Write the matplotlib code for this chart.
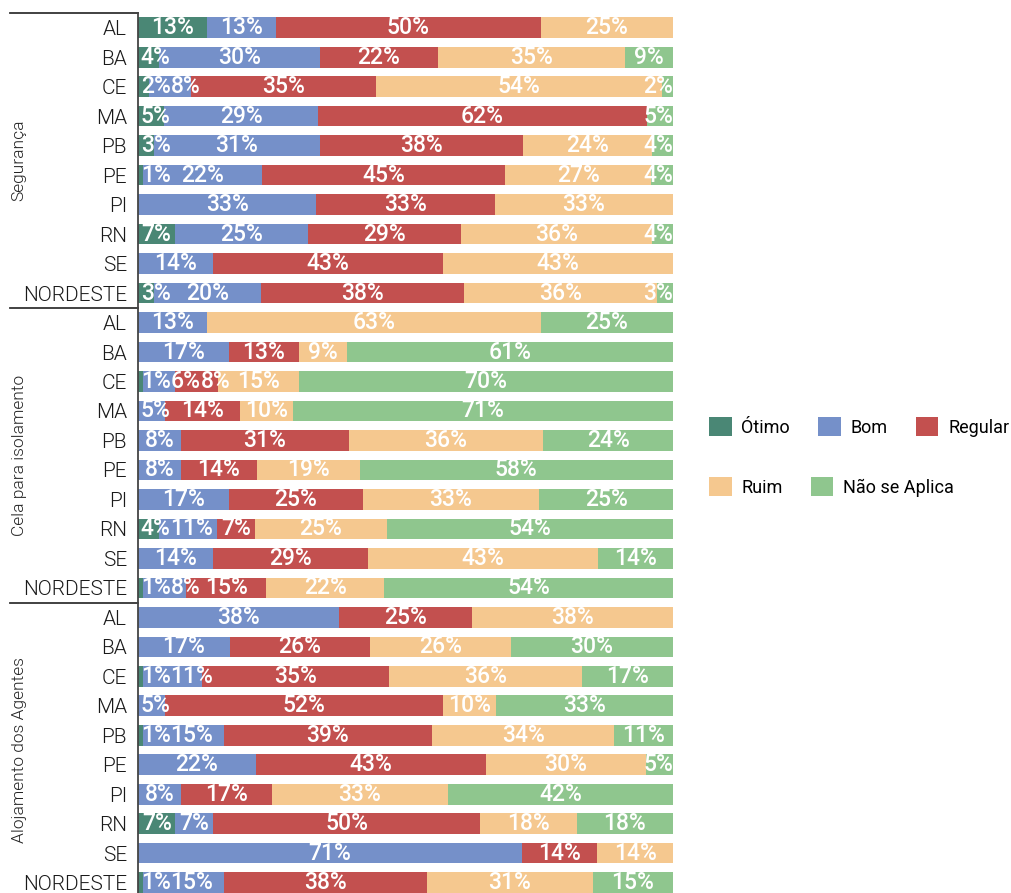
import matplotlib
matplotlib.use('Agg')
import matplotlib.pyplot as plt
from matplotlib.patches import Patch
import numpy as np

groups = ["Segurança", "Cela para isolamento", "Alojamento dos Agentes"]
states = ["AL", "BA", "CE", "MA", "PB", "PE", "PI", "RN", "SE", "NORDESTE"]
categories = ["Ótimo", "Bom", "Regular", "Ruim", "Não se Aplica"]
colors = ["#4a8775", "#7590c9", "#c3504f", "#f5c88f", "#8fc68e"]

seg_otimo = [13, 4, 2, 5, 3, 1, 0, 7, 0, 3]
seg_bom = [13, 30, 8, 29, 31, 22, 33, 25, 14, 20]
seg_regular = [50, 22, 35, 62, 38, 45, 33, 29, 43, 38]
seg_ruim = [25, 35, 54, 0, 24, 27, 33, 36, 43, 36]
seg_nao = [0, 9, 2, 5, 4, 4, 0, 4, 0, 3]

cela_otimo = [0, 0, 1, 0, 0, 0, 0, 4, 0, 1]
cela_bom = [13, 17, 6, 5, 8, 8, 17, 11, 14, 8]
cela_regular = [0, 13, 8, 14, 31, 14, 25, 7, 29, 15]
cela_ruim = [63, 9, 15, 10, 36, 19, 33, 25, 43, 22]
cela_nao = [25, 61, 70, 71, 24, 58, 25, 54, 14, 54]

aloj_otimo = [0, 0, 1, 0, 1, 0, 0, 7, 0, 1]
aloj_bom = [38, 17, 11, 5, 15, 22, 8, 7, 71, 15]
aloj_regular = [25, 26, 35, 52, 39, 43, 17, 50, 14, 38]
aloj_ruim = [38, 26, 36, 10, 34, 30, 33, 18, 14, 31]
aloj_nao = [0, 30, 17, 33, 11, 5, 42, 18, 0, 15]

seg = np.array([seg_otimo, seg_bom, seg_regular, seg_ruim, seg_nao]).T
cela = np.array([cela_otimo, cela_bom, cela_regular, cela_ruim, cela_nao]).T
aloj = np.array([aloj_otimo, aloj_bom, aloj_regular, aloj_ruim, aloj_nao]).T
raw = np.vstack([seg, cela, aloj])
n_rows = raw.shape[0]
norm = raw / raw.sum(axis=1, keepdims=True) * 100
lefts = np.cumsum(norm, axis=1) - norm

W, H = 1011, 893
fig = plt.figure(figsize=(W / 100, H / 100), dpi=100)
ax_l, ax_r, ax_top = 138, 673, 13
pitch = 29.48
ax_h = n_rows * pitch
ax = fig.add_axes([ax_l / W, 1 - (ax_top + ax_h) / H, (ax_r - ax_l) / W, ax_h / H])

y = np.arange(n_rows)
for c in range(5):
    ax.barh(y, norm[:, c], left=lefts[:, c], height=0.7, color=colors[c], linewidth=0)

ax.set_xlim(0, 100)
ax.set_ylim(n_rows - 0.5, -0.5)
ax.set_yticks(y)
ax.set_yticklabels(states * 3, fontsize=15, color="#1a1a1a", family="Roboto", fontweight=300)
ax.tick_params(axis='y', length=0, pad=8)
ax.set_xticks([])
for s in ["top", "right", "bottom"]:
    ax.spines[s].set_visible(False)
ax.spines["left"].set_color("#444444")
ax.spines["left"].set_linewidth(1.3)

tr = ax.get_yaxis_transform()
for b in [-0.5, 9.5, 19.5]:
    ax.plot([-0.239, 0], [b, b], transform=tr, clip_on=False, color="#333333", lw=1.3)
for g, name in enumerate(groups):
    ax.text(-0.222, g * 10 + 4.5, name, transform=tr, rotation=90, ha='center', va='center',
            fontsize=12.5, color="#222222", family="Roboto", fontweight=300)

renderer = fig.canvas.get_renderer()
ax_px_w = ax_r - ax_l
margin = 0.5
for r in range(n_rows):
    items = []
    for c in range(5):
        v = raw[r, c]
        if v <= 0:
            continue
        ctr = lefts[r, c] + norm[r, c] / 2
        t = ax.text(ctr, r, f"{v}%", ha='left', va='center', color='white',
                    fontsize=16.5, fontweight='medium', family="Roboto")
        wd = t.get_window_extent(renderer).width / ax_px_w * 100
        items.append([t, ctr - wd / 2, wd])
    prev = margin
    for it in items:
        it[1] = max(it[1], prev)
        prev = it[1] + it[2]
    nxt = 100
    for it in reversed(items):
        it[1] = min(it[1], nxt - it[2])
        nxt = it[1]
    for t, x, wd in items:
        t.set_x(x)

handles = [Patch(facecolor=col, edgecolor='none') for col in colors]
common = dict(frameon=False, handlelength=1.25, handleheight=1.25, handletextpad=0.55,
              columnspacing=1.55, borderpad=0, borderaxespad=0,
              prop={'family': 'Roboto', 'size': 13}, loc='center left')
leg1 = fig.legend(handles[:3], categories[:3], ncol=3,
                  bbox_to_anchor=(709 / W, 1 - 427 / H), **common)
leg2 = fig.legend(handles[3:], categories[3:], ncol=2,
                  bbox_to_anchor=(709 / W, 1 - 487 / H), **common)

fig.savefig("out.png", dpi=100)
